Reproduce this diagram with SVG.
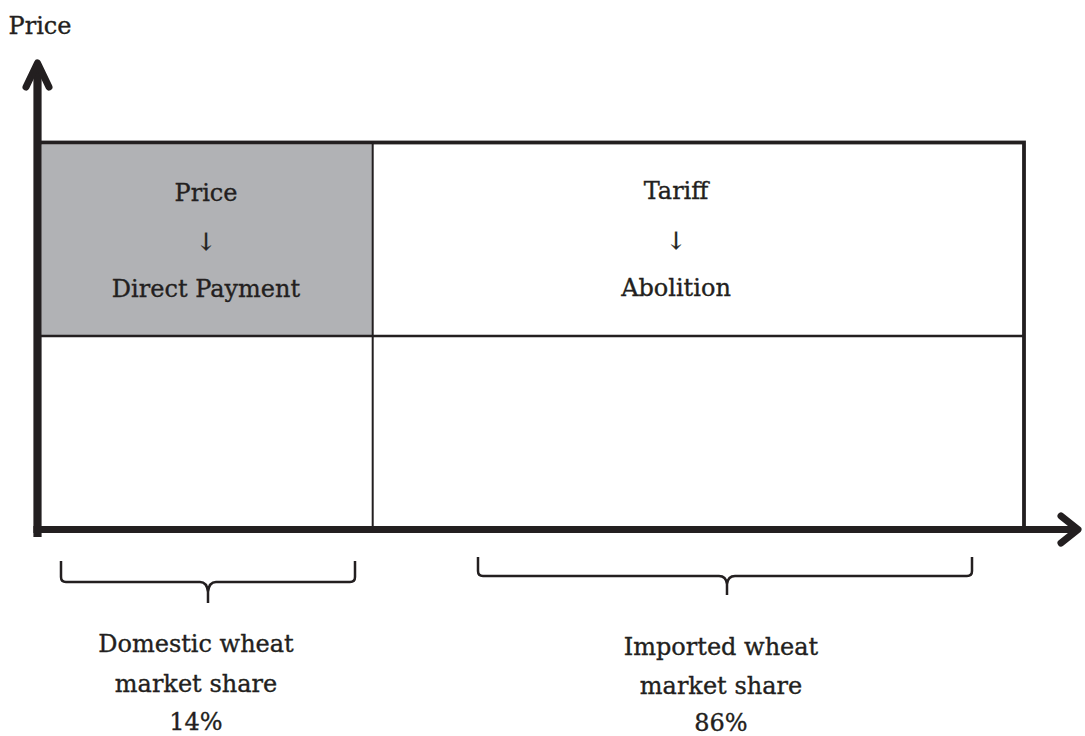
<svg xmlns="http://www.w3.org/2000/svg" width="1085" height="736" viewBox="0 0 1085 736">
<style>
.t{font-family:"DejaVu Serif","Liberation Serif",serif;font-size:24px;fill:#231f20;stroke:#231f20;stroke-width:0.35;text-anchor:middle}
.ax{stroke:#231f20;stroke-width:7;fill:none;stroke-linecap:round;stroke-linejoin:round}
.br{stroke:#231f20;stroke-width:2.5;fill:none}
</style>
<rect width="1085" height="736" fill="#fff"/>
<g id="box">
<rect x="41.5" y="144.5" width="331" height="191" fill="#b1b2b5"/>
<rect x="37.5" y="142.5" width="986.5" height="387" fill="none" stroke="#231f20" stroke-width="3.8"/>
<line x1="372.7" y1="142.5" x2="372.7" y2="529" stroke="#231f20" stroke-width="2"/>
<line x1="37.5" y1="336" x2="1024" y2="336" stroke="#231f20" stroke-width="2.4"/>
</g>
<g id="connectors">
<line x1="37.5" y1="66" x2="37.5" y2="537" stroke="#231f20" stroke-width="8.2"/>
<polyline class="ax" points="26,87 37.5,63 49,87"/>
<line x1="33.4" y1="529.5" x2="1076" y2="529.5" stroke="#231f20" stroke-width="7"/>
<polyline class="ax" points="1061,516 1078,529.5 1061,543"/>
</g>
<g id="brace-domestic">
<path class="br" d="M61,561 V577 Q61,582 66,582 H200 Q207,582 208,592 V603 M355,561 V577 Q355,582 350,582 H216 Q209,582 208,592"/>
</g>
<g id="brace-imported">
<path class="br" d="M478,557 V571 Q478,576 483,576 H719 Q726,576 727,584 V595 M972,557 V571 Q972,576 967,576 H735 Q728,576 727,584"/>
</g>
<g id="label-price-axis"><text class="t" x="40" y="34">Price</text></g>
<g id="node-price">
<text class="t" x="206" y="201">Price</text>
<text class="t" x="206" y="250">↓</text>
<text class="t" x="206" y="297">Direct Payment</text>
</g>
<g id="node-tariff">
<text class="t" x="676" y="199">Tariff</text>
<text class="t" x="676" y="249">↓</text>
<text class="t" x="676" y="296">Abolition</text>
</g>
<g id="label-domestic">
<text class="t" x="196" y="652">Domestic wheat</text>
<text class="t" x="196" y="692">market share</text>
<text class="t" x="196" y="730">14%</text>
</g>
<g id="label-imported">
<text class="t" x="721" y="655">Imported wheat</text>
<text class="t" x="721" y="694">market share</text>
<text class="t" x="721" y="731">86%</text>
</g>
</svg>
